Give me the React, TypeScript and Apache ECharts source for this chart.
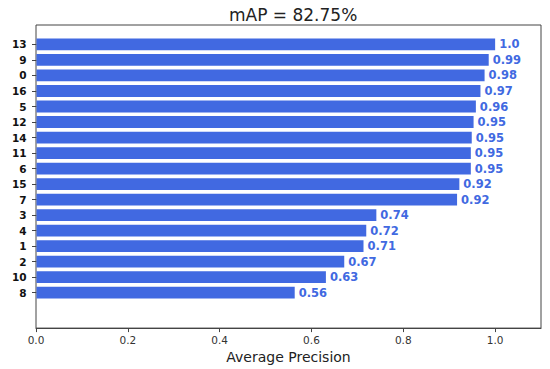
import React, { useEffect, useRef } from "react";
import * as echarts from "echarts";

const categories = ["13", "9", "0", "16", "5", "12", "14", "11", "6", "15", "7", "3", "4", "1", "2", "10", "8"];
const values = [1.0, 0.986, 0.977, 0.968, 0.958, 0.953, 0.949, 0.947, 0.947, 0.922, 0.917, 0.741, 0.719, 0.713, 0.671, 0.631, 0.563];
const xTicks = [0, 0.2, 0.4, 0.6, 0.8, 1.0];
const titleText = "mAP = 82.75%";
const xName = "Average Precision";

const FONT = "DejaVu Sans";

function fmt(v: number): string {
  const r = Math.round(v * 100) / 100;
  const s = String(r);
  return s.indexOf(".") < 0 ? s + ".0" : s;
}

export default function App() {
  const ref = useRef<HTMLDivElement>(null);
  useEffect(() => {
    if (!ref.current) return;
    const chart = echarts.init(ref.current, null, { renderer: "svg" });
    chart.setOption({
      animation: false,
      backgroundColor: "#ffffff",
      textStyle: { fontFamily: FONT },
      title: {
        text: titleText,
        left: 224,
        top: 1,
        textStyle: { fontFamily: FONT, fontSize: 17, fontWeight: "normal", color: "#222" },
      },
      grid: [
        { left: 36.5, right: 9, top: 36.7, height: 263.7 },
        { left: 36, right: 9, top: 25, bottom: 40, show: true, borderColor: "#444", borderWidth: 1, backgroundColor: "transparent" },
      ],
      xAxis: [
        { gridIndex: 0, type: "value", min: 0, max: 1.1, show: false },
        {
          gridIndex: 1,
          type: "value",
          min: 0,
          max: 1.1,
          splitLine: { show: false },
          axisLine: { show: true, lineStyle: { color: "#444" } },
          axisTick: { show: true, length: 4, customValues: xTicks, lineStyle: { color: "#444" } },
          axisLabel: {
            customValues: xTicks,
            formatter: (v: number) => v.toFixed(1),
            color: "#333",
            fontSize: 10.5,
            margin: 6,
            fontFamily: FONT,
          },
          name: xName,
          nameLocation: "middle",
          nameGap: 20,
          nameTextStyle: { fontFamily: FONT, fontSize: 14, color: "#222" },
        },
      ],
      yAxis: [
        {
          gridIndex: 0,
          type: "category",
          data: categories,
          inverse: true,
          axisLine: { show: false },
          axisTick: { show: true, alignWithLabel: true, length: 4.5, lineStyle: { color: "#444" } },
          axisLabel: { color: "#111", fontWeight: "bold", fontSize: 10.5, margin: 10, fontFamily: FONT },
          splitLine: { show: false },
        },
        { gridIndex: 1, type: "value", show: false, min: 0, max: 1 },
      ],
      series: [
        {
          type: "bar",
          xAxisIndex: 0,
          yAxisIndex: 0,
          data: values,
          barCategoryGap: "24%",
          itemStyle: { color: "#4169E1" },
          label: {
            show: true,
            position: "right",
            distance: 4,
            formatter: (p: any) => fmt(p.value),
            color: "#4169E1",
            fontWeight: "bold",
            fontSize: 11.5,
            fontFamily: FONT,
          },
        },
      ],
    });
    return () => chart.dispose();
  }, []);
  return (
    <div
      ref={ref}
      style={{ position: "fixed", left: 0, top: 0, width: 550, height: 369, background: "#fff" }}
    />
  );
}
